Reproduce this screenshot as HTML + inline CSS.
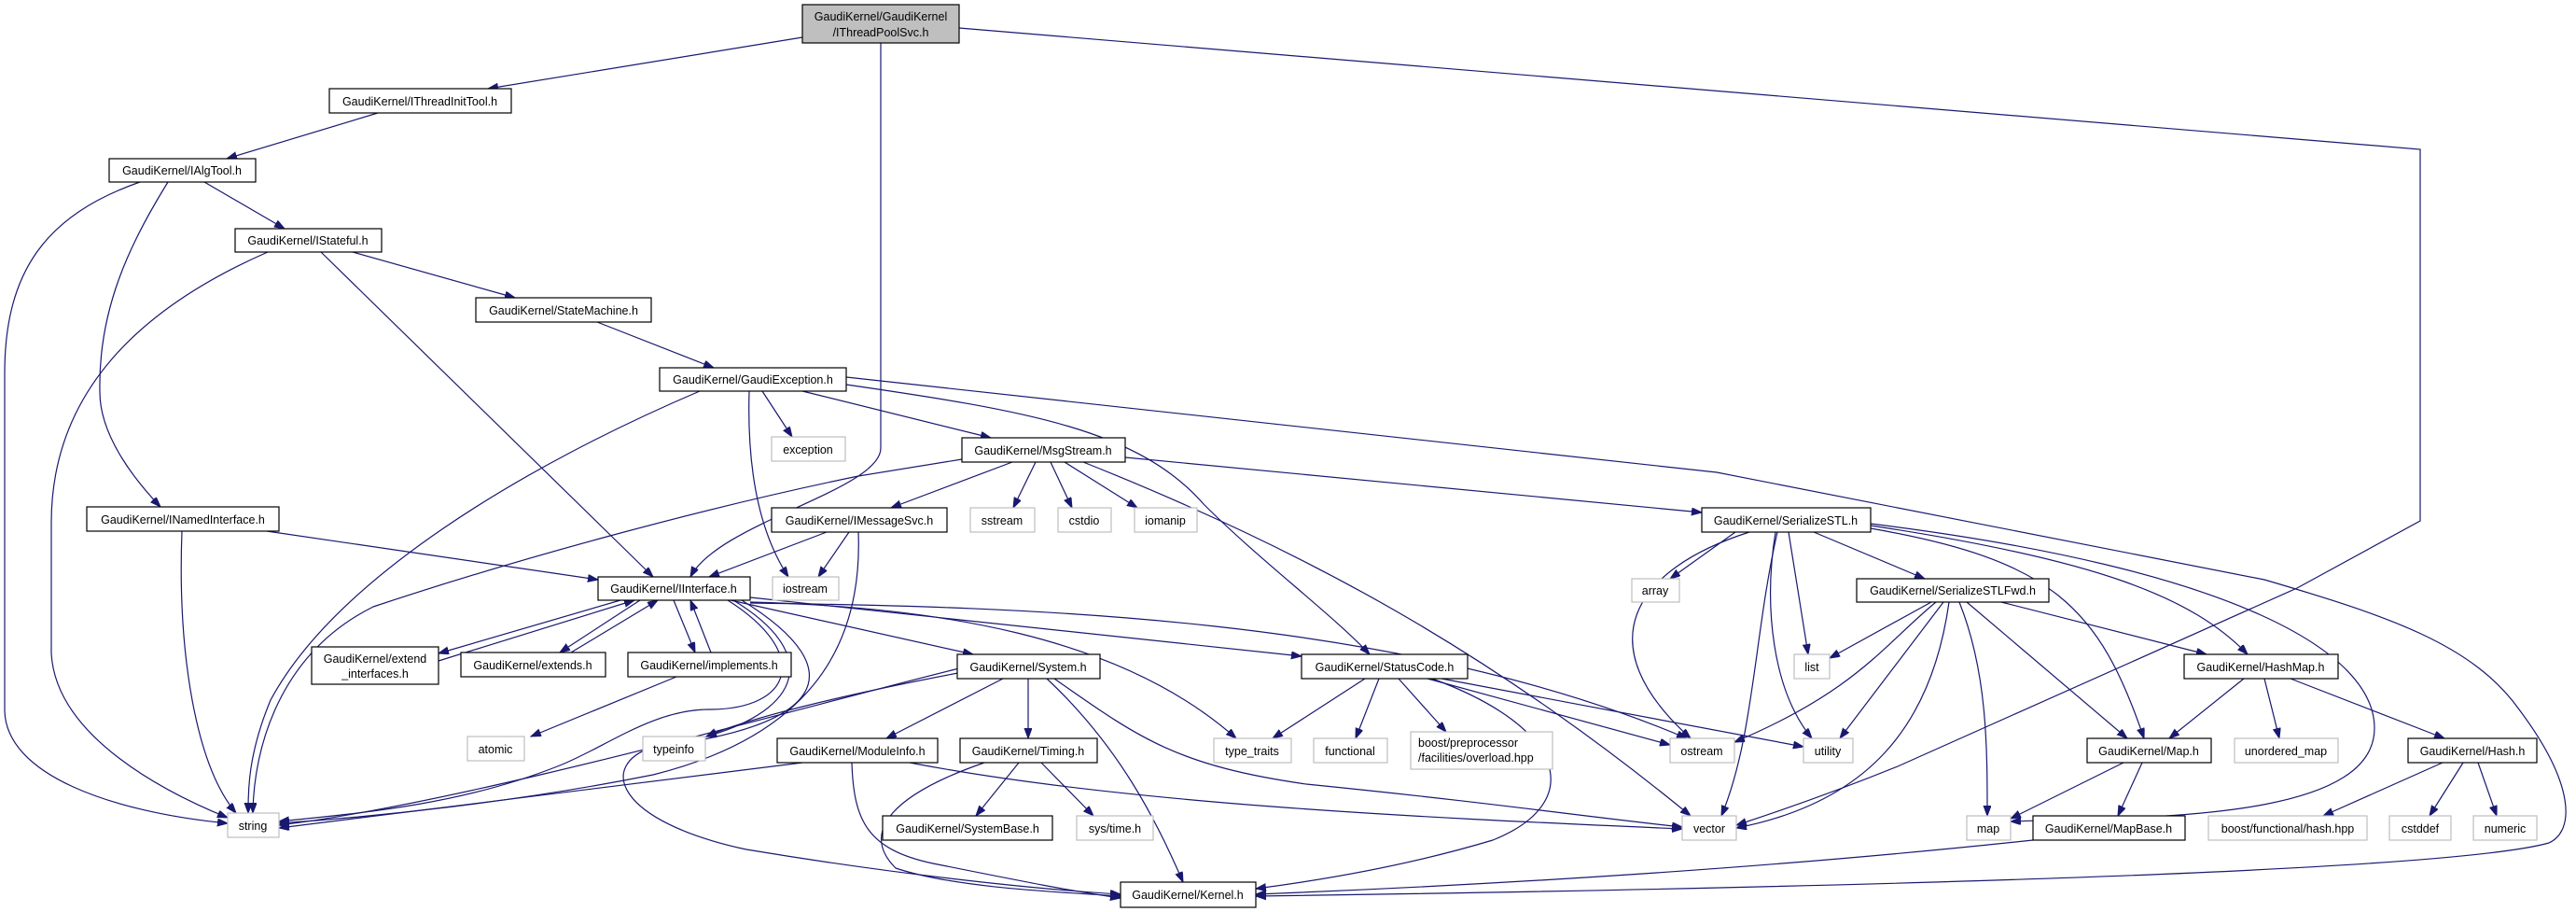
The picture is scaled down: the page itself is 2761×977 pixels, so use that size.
<!DOCTYPE html>
<html><head><meta charset="utf-8"><style>
html,body{margin:0;padding:0;background:#fff;}
svg{display:block;}
text{font-family:"Liberation Sans",sans-serif;font-size:12.5px;fill:#000;}
.n{fill:#fff;stroke:#000;stroke-width:1.2;}
.s{fill:#fff;stroke:#bfbfbf;stroke-width:1.2;}
.e{fill:none;stroke:#191970;stroke-width:1.2;marker-end:url(#a);}
</style></head><body>
<svg width="2761" height="977" viewBox="0 0 2761 977" xmlns="http://www.w3.org/2000/svg">
<defs><marker id="a" markerUnits="userSpaceOnUse" markerWidth="12" markerHeight="10" refX="11" refY="4" orient="auto"><path d="M0,0 L11,4 L0,8 z" fill="#191970" stroke="#191970"/></marker></defs>
<g>
<path class="e" d="M860,40 L523,95"/>
<path class="e" d="M944,46 L944,480 C944,525 770,560 740,618"/>
<path class="e" d="M1028,30 L2594,160 L2594,558 L2462,630 L2034,821 Q1950,855 1861,884"/>
<path class="e" d="M405,121 L243,170"/>
<path class="e" d="M150,195 C50,230 5,290 5,400 L5,760 C5,830 120,870 244,882"/>
<path class="e" d="M180,195 C140,260 105,330 107,420 C107,470 150,520 172,543"/>
<path class="e" d="M219,195 L305,245"/>
<path class="e" d="M287,270 C150,330 55,420 55,560 L55,700 C60,790 180,850 244,876"/>
<path class="e" d="M344,270 L700,618"/>
<path class="e" d="M378,270 L552,319"/>
<path class="e" d="M640,345 L765,394"/>
<path class="e" d="M750,419 C560,500 360,620 290,750 C265,810 266,850 266,871"/>
<path class="e" d="M803,419 C800,520 820,580 845,618"/>
<path class="e" d="M817,419 L849,468"/>
<path class="e" d="M860,419 L1062,469"/>
<path class="e" d="M907,412 C1100,440 1220,460 1290,540 C1350,600 1430,660 1468,701"/>
<path class="e" d="M907,404 L1840,506 L2427,621 C2560,660 2650,690 2700,760 C2760,840 2760,890 2732,903 C2600,940 1700,955 1346,960"/>
<path class="e" d="M195,569 C190,700 210,820 253,871"/>
<path class="e" d="M286,569 L641,621"/>
<path class="e" d="M1031,492 L920,510 C750,545 550,600 400,650 C300,700 272,800 271,871"/>
<path class="e" d="M1085,495 L955,544"/>
<path class="e" d="M1110,495 L1086,544"/>
<path class="e" d="M1126,495 L1149,544"/>
<path class="e" d="M1141,495 L1219,544"/>
<path class="e" d="M1161,495 C1400,590 1600,700 1812,874"/>
<path class="e" d="M1206,490 L1824,549"/>
<path class="e" d="M886,570 L760,618"/>
<path class="e" d="M910,570 L877,618"/>
<path class="e" d="M920,570 C925,700 860,790 700,830 C550,860 400,875 299,882"/>
<path class="e" d="M665,643 L470,700"/>
<path class="e" d="M470,708 L680,643"/>
<path class="e" d="M686,643 L600,699"/>
<path class="e" d="M612,699 L705,643"/>
<path class="e" d="M722,643 L745,699"/>
<path class="e" d="M762,699 L740,643"/>
<path class="e" d="M783,643 L1043,701"/>
<path class="e" d="M804,640 L1395,703"/>
<path class="e" d="M786,643 C880,700 860,760 757,789"/>
<path class="e" d="M804,645 C1000,650 1200,680 1325,791"/>
<path class="e" d="M804,646 C1100,650 1500,660 1808,791"/>
<path class="e" d="M795,643 C920,720 880,780 700,800 C640,820 660,880 800,910 C950,935 1100,952 1201,958"/>
<path class="e" d="M780,643 C870,700 850,760 760,760 C700,760 650,800 600,820 C500,860 400,870 299,880"/>
<path class="e" d="M725,725 L569,789"/>
<path class="e" d="M1032,715 C850,760 500,860 299,884"/>
<path class="e" d="M1032,720 C900,745 800,770 757,789"/>
<path class="e" d="M1075,727 L950,791"/>
<path class="e" d="M1102,727 L1102,791"/>
<path class="e" d="M1122,727 C1200,800 1240,880 1268,945"/>
<path class="e" d="M1130,727 C1220,790 1260,820 1400,840 C1600,860 1700,875 1803,886"/>
<path class="e" d="M1463,727 L1364,791"/>
<path class="e" d="M1478,727 L1453,791"/>
<path class="e" d="M1499,727 L1550,784"/>
<path class="e" d="M1530,727 L1790,798"/>
<path class="e" d="M1545,727 L1933,800"/>
<path class="e" d="M1535,727 C1680,780 1700,860 1600,900 C1500,930 1400,945 1346,952"/>
<path class="e" d="M860,817 L299,887"/>
<path class="e" d="M913,817 C915,880 930,910 1000,925 C1100,945 1150,955 1201,962"/>
<path class="e" d="M975,817 C1200,860 1500,875 1803,888"/>
<path class="e" d="M1092,817 L1046,874"/>
<path class="e" d="M1116,817 L1172,874"/>
<path class="e" d="M1055,817 C960,850 920,890 960,930 C1020,950 1120,955 1201,960"/>
<path class="e" d="M1875,570 C1750,610 1700,690 1812,791"/>
<path class="e" d="M1860,570 L1790,620"/>
<path class="e" d="M1905,570 C1880,680 1880,790 1845,874"/>
<path class="e" d="M1903,570 C1890,650 1900,740 1942,791"/>
<path class="e" d="M1917,570 L1938,701"/>
<path class="e" d="M1944,570 L2063,620"/>
<path class="e" d="M2005,566 C2200,600 2250,650 2298,791"/>
<path class="e" d="M2005,563 C2250,600 2350,640 2409,701"/>
<path class="e" d="M2005,561 C2400,610 2545,700 2545,780 C2545,880 2300,875 2155,880"/>
<path class="e" d="M2070,645 L1961,705"/>
<path class="e" d="M2075,645 C2020,690 1990,740 1859,795"/>
<path class="e" d="M2083,645 L1972,791"/>
<path class="e" d="M2089,645 C2070,780 2000,860 1861,887"/>
<path class="e" d="M2100,645 C2130,720 2130,800 2130,874"/>
<path class="e" d="M2108,645 L2280,791"/>
<path class="e" d="M2145,645 L2365,701"/>
<path class="e" d="M2405,727 L2325,791"/>
<path class="e" d="M2427,727 L2443,791"/>
<path class="e" d="M2455,727 L2620,791"/>
<path class="e" d="M2276,817 L2155,877"/>
<path class="e" d="M2296,817 L2270,874"/>
<path class="e" d="M2179,900 C1900,930 1600,948 1346,958"/>
<path class="e" d="M2618,817 L2490,874"/>
<path class="e" d="M2640,817 L2604,874"/>
<path class="e" d="M2656,817 L2676,874"/>
</g>
<g>
<rect x="860" y="5" width="168" height="41" fill="#bfbfbf" stroke="#000" stroke-width="1.2"/>
<text x="944" y="22" text-anchor="middle">GaudiKernel/GaudiKernel</text>
<text x="944" y="39" text-anchor="middle">/IThreadPoolSvc.h</text>

<rect class="n" x="353" y="95" width="195" height="26"/><text x="450" y="113" text-anchor="middle">GaudiKernel/IThreadInitTool.h</text>
<rect class="n" x="117" y="170" width="157" height="25"/><text x="195" y="187" text-anchor="middle">GaudiKernel/IAlgTool.h</text>
<rect class="n" x="252" y="245" width="157" height="25"/><text x="330" y="262" text-anchor="middle">GaudiKernel/IStateful.h</text>
<rect class="n" x="510" y="319" width="188" height="26"/><text x="604" y="337" text-anchor="middle">GaudiKernel/StateMachine.h</text>
<rect class="n" x="707" y="394" width="200" height="25"/><text x="807" y="411" text-anchor="middle">GaudiKernel/GaudiException.h</text>
<rect class="s" x="827" y="468" width="79" height="26"/><text x="866" y="486" text-anchor="middle">exception</text>
<rect class="n" x="1031" y="469" width="175" height="26"/><text x="1118" y="487" text-anchor="middle">GaudiKernel/MsgStream.h</text>
<rect class="n" x="93" y="543" width="206" height="26"/><text x="196" y="561" text-anchor="middle">GaudiKernel/INamedInterface.h</text>
<rect class="n" x="827" y="544" width="188" height="26"/><text x="921" y="562" text-anchor="middle">GaudiKernel/IMessageSvc.h</text>
<rect class="s" x="1040" y="544" width="69" height="26"/><text x="1074" y="562" text-anchor="middle">sstream</text>
<rect class="s" x="1134" y="544" width="57" height="26"/><text x="1162" y="562" text-anchor="middle">cstdio</text>
<rect class="s" x="1216" y="544" width="67" height="26"/><text x="1249" y="562" text-anchor="middle">iomanip</text>
<rect class="n" x="1824" y="544" width="181" height="26"/><text x="1914" y="562" text-anchor="middle">GaudiKernel/SerializeSTL.h</text>
<rect class="n" x="641" y="618" width="163" height="25"/><text x="722" y="635" text-anchor="middle">GaudiKernel/IInterface.h</text>
<rect class="s" x="828" y="618" width="71" height="25"/><text x="863" y="635" text-anchor="middle">iostream</text>
<rect class="s" x="1749" y="620" width="51" height="25"/><text x="1774" y="637" text-anchor="middle">array</text>
<rect class="n" x="1990" y="620" width="206" height="25"/><text x="2093" y="637" text-anchor="middle">GaudiKernel/SerializeSTLFwd.h</text>
<rect class="n" x="334" y="693" width="136" height="40"/><text x="402" y="710" text-anchor="middle">GaudiKernel/extend</text><text x="402" y="726" text-anchor="middle">_interfaces.h</text>
<rect class="n" x="494" y="699" width="155" height="26"/><text x="571" y="717" text-anchor="middle">GaudiKernel/extends.h</text>
<rect class="n" x="673" y="699" width="175" height="26"/><text x="760" y="717" text-anchor="middle">GaudiKernel/implements.h</text>
<rect class="n" x="1026" y="701" width="153" height="26"/><text x="1102" y="719" text-anchor="middle">GaudiKernel/System.h</text>
<rect class="n" x="1395" y="701" width="178" height="26"/><text x="1484" y="719" text-anchor="middle">GaudiKernel/StatusCode.h</text>
<rect class="s" x="1923" y="701" width="38" height="26"/><text x="1942" y="719" text-anchor="middle">list</text>
<rect class="n" x="2341" y="701" width="165" height="26"/><text x="2423" y="719" text-anchor="middle">GaudiKernel/HashMap.h</text>
<rect class="s" x="501" y="789" width="61" height="26"/><text x="531" y="807" text-anchor="middle">atomic</text>
<rect class="s" x="689" y="789" width="67" height="26"/><text x="722" y="807" text-anchor="middle">typeinfo</text>
<rect class="n" x="833" y="791" width="172" height="26"/><text x="919" y="809" text-anchor="middle">GaudiKernel/ModuleInfo.h</text>
<rect class="n" x="1029" y="791" width="147" height="26"/><text x="1102" y="809" text-anchor="middle">GaudiKernel/Timing.h</text>
<rect class="s" x="1301" y="791" width="83" height="26"/><text x="1342" y="809" text-anchor="middle">type_traits</text>
<rect class="s" x="1408" y="791" width="79" height="26"/><text x="1447" y="809" text-anchor="middle">functional</text>
<rect class="s" x="1512" y="784" width="152" height="40"/><text x="1520" y="800">boost/preprocessor</text><text x="1520" y="816">/facilities/overload.hpp</text>
<rect class="s" x="1790" y="791" width="69" height="26"/><text x="1824" y="809" text-anchor="middle">ostream</text>
<rect class="s" x="1933" y="791" width="53" height="26"/><text x="1959" y="809" text-anchor="middle">utility</text>
<rect class="n" x="2237" y="791" width="133" height="26"/><text x="2303" y="809" text-anchor="middle">GaudiKernel/Map.h</text>
<rect class="s" x="2395" y="791" width="111" height="26"/><text x="2450" y="809" text-anchor="middle">unordered_map</text>
<rect class="n" x="2581" y="791" width="138" height="26"/><text x="2650" y="809" text-anchor="middle">GaudiKernel/Hash.h</text>
<rect class="s" x="244" y="871" width="55" height="26"/><text x="271" y="889" text-anchor="middle">string</text>
<rect class="n" x="946" y="874" width="182" height="26"/><text x="1037" y="892" text-anchor="middle">GaudiKernel/SystemBase.h</text>
<rect class="s" x="1154" y="874" width="82" height="26"/><text x="1195" y="892" text-anchor="middle">sys/time.h</text>
<rect class="s" x="1803" y="874" width="58" height="26"/><text x="1832" y="892" text-anchor="middle">vector</text>
<rect class="s" x="2108" y="874" width="47" height="26"/><text x="2131" y="892" text-anchor="middle">map</text>
<rect class="n" x="2179" y="874" width="163" height="26"/><text x="2260" y="892" text-anchor="middle">GaudiKernel/MapBase.h</text>
<rect class="s" x="2367" y="874" width="170" height="26"/><text x="2452" y="892" text-anchor="middle">boost/functional/hash.hpp</text>
<rect class="s" x="2561" y="874" width="66" height="26"/><text x="2594" y="892" text-anchor="middle">cstddef</text>
<rect class="s" x="2651" y="874" width="68" height="26"/><text x="2685" y="892" text-anchor="middle">numeric</text>
<rect class="n" x="1201" y="945" width="145" height="27"/><text x="1273" y="963" text-anchor="middle">GaudiKernel/Kernel.h</text>
</g>
</svg>
</body></html>
